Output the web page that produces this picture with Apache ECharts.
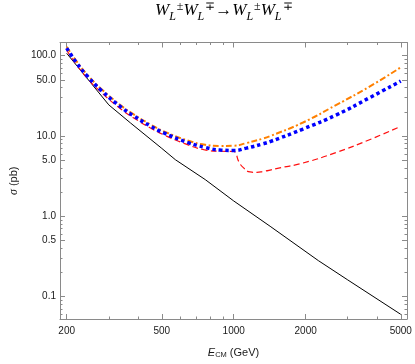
<!DOCTYPE html>
<html><head><meta charset="utf-8">
<script src="https://cdn.jsdelivr.net/npm/echarts@6/dist/echarts.min.js"></script>
<style>html,body{margin:0;padding:0;background:#fff}#c{width:415px;height:364px}</style>
</head><body><div id="c"></div>
<script>
// ---- data (E_CM in GeV, sigma in pb) ----
const blackE = [200, 300, 370, 500, 570, 760, 1000, 1420, 2260, 3000, 5000];
const blackS = [107, 24.4, 14.5, 7.0, 5.06, 2.86, 1.55, 0.75, 0.28, 0.161, 0.06];

const blueE = [200, 220, 245, 280, 340, 380, 450, 510, 640, 760, 880, 1000, 1130, 1330, 1420, 1950, 2690, 3700, 5000];
const blueS = [124, 81.5, 54.7, 36.6, 22.5, 17.9, 13.2, 10.9, 8.32, 7.19, 6.68, 6.6, 7.05, 8.0, 8.5, 12.2, 18.3, 29.9, 48.2];

const orangeE = [200, 220, 245, 280, 340, 380, 450, 510, 640, 760, 880, 1000, 1130, 1330, 1420, 1950, 2690, 3700, 5000];
const orangeS = [129, 85, 57, 38.2, 23.5, 18.7, 13.8, 11.4, 8.8, 7.75, 7.5, 7.55, 8.15, 9.3, 9.95, 14.7, 24.4, 41.2, 71.5];

const redE = [200, 220, 245, 280, 340, 380, 450, 510, 640, 750, 880, 1000, 1020, 1050, 1100, 1170, 1250, 1330, 1420, 1560, 1950, 2690, 3700, 5000];
const redS = [117, 77, 51.5, 34.5, 21.2, 16.9, 12.5, 10.3, 7.8, 6.75, 6.45, 6.4, 6.1, 4.8, 4.0, 3.56, 3.52, 3.62, 3.76, 4.0, 4.6, 6.24, 8.97, 13.2];

// ---- ticks ----
const xMajor = [200, 500, 1000, 2000, 5000];
const xMajorLabels = ['200', '500', '1000', '2000', '5000'];
const xMinor = [300, 400, 600, 700, 800, 900, 3000, 4000];
const yMajor = [0.1, 0.5, 1, 5, 10, 50, 100];
const yMajorLabels = ['0.1', '0.5', '1.0', '5.0', '10.0', '50.0', '100.0'];
const yMinor = [0.06, 0.07, 0.08, 0.09, 0.2, 0.3, 0.4, 0.6, 0.7, 0.8, 0.9, 2, 3, 4, 6, 7, 8, 9, 20, 30, 40, 60, 70, 80, 90];

const L = Math.log10;
const XMIN = L(187.5), XMAX = L(5310);
const YMIN = -1.28, YMAX = 2.164;
const AX = '#8a8a8a';

function pairs(E, S) { return E.map((e, i) => [L(e), L(S[i])]); }
function labelFor(vals, labels) {
  return function (v) {
    let best = 0, bd = 1e9;
    vals.forEach((t, i) => { const d = Math.abs(L(t) - v); if (d < bd) { bd = d; best = i; } });
    return labels[best];
  };
}
function axis(kind, pos, vals, len, labels, showLine, extra) {
  const o = {
    type: 'value', position: pos, offset: 0,
    min: kind === 'x' ? XMIN : YMIN, max: kind === 'x' ? XMAX : YMAX,
    splitLine: { show: false },
    axisLine: { show: showLine, onZero: false, lineStyle: { color: AX, width: 1 } },
    axisTick: { show: true, inside: true, length: len, customValues: vals.map(L), lineStyle: { color: AX, width: 1 } },
    axisLabel: { show: !!labels, customValues: vals.map(L), color: '#1a1a1a', fontSize: 10, fontFamily: 'Liberation Sans',
      margin: kind === 'x' ? 7 : 4, formatter: labels ? labelFor(vals, labels) : '' }
  };
  return Object.assign(o, extra || {});
}

const chart = echarts.init(document.getElementById('c'), null, { renderer: 'canvas' });
chart.setOption({
  animation: false,
  backgroundColor: '#fff',
  title: {
    text: '{w|W}{s|L}{p|±}{w|W}{s|L}{p|∓}{a|→}{w|W}{s|L}{p|±}{w|W}{s|L}{p|∓}',
    left: 155, top: 1, padding: 0,
    textStyle: {
      fontWeight: 'normal',
      rich: {
        w: { fontFamily: 'Liberation Serif', fontStyle: 'italic', fontWeight: 'normal', fontSize: 17, lineHeight: 20, color: '#000' },
        s: { fontFamily: 'Liberation Serif', fontStyle: 'italic', fontWeight: 'normal', fontSize: 12, lineHeight: 20, color: '#000', padding: [11, 1, 0, 0] },
        p: { fontFamily: 'Liberation Serif', fontWeight: 'normal', fontSize: 12, lineHeight: 20, color: '#000', padding: [0, 0, 9, 0] },
        a: { fontFamily: 'Liberation Serif', fontWeight: 'normal', fontSize: 17, lineHeight: 20, color: '#000' }
      }
    }
  },
  grid: { left: 59, right: 8, top: 42.5, bottom: 44, containLabel: false },
  xAxis: [
    axis('x', 'bottom', xMajor, 5, xMajorLabels, true, {
      name: '{e|E}{s|CM}{n| (GeV)}', nameLocation: 'middle', nameGap: 27,
      nameTextStyle: { rich: {
        e: { fontFamily: 'Liberation Sans', fontStyle: 'italic', fontSize: 11, color: '#1a1a1a' },
        s: { fontFamily: 'Liberation Sans', fontSize: 7.5, color: '#1a1a1a', padding: [5, 0, 0, 0] },
        n: { fontFamily: 'Liberation Sans', fontSize: 11, color: '#1a1a1a' }
      } }
    }),
    axis('x', 'top', xMajor, 5, null, true),
    axis('x', 'bottom', xMinor, 2.5, null, false),
    axis('x', 'top', xMinor, 2.5, null, false)
  ],
  yAxis: [
    axis('y', 'left', yMajor, 5, yMajorLabels, true, {
      name: '{s|σ}{n| (pb)}', nameLocation: 'middle', nameGap: 40, nameRotate: 90,
      nameTextStyle: { rich: {
        s: { fontFamily: 'Liberation Serif', fontStyle: 'italic', fontSize: 12, color: '#1a1a1a' },
        n: { fontFamily: 'Liberation Sans', fontSize: 11, color: '#1a1a1a' }
      } }
    }),
    axis('y', 'right', yMajor, 5, null, true),
    axis('y', 'left', yMinor, 2.5, null, false),
    axis('y', 'right', yMinor, 2.5, null, false)
  ],
  series: [
    { type: 'line', name: 'black', data: pairs(blackE, blackS), showSymbol: false, symbol: 'none', smooth: false,
      lineStyle: { color: '#000', width: 1 }, z: 2 },
    { type: 'line', name: 'red', data: pairs(redE, redS), showSymbol: false, symbol: 'none', smooth: 0.5,
      lineStyle: { color: '#ff1010', width: 1.2, type: [6, 3.5] }, z: 3 },
    { type: 'line', name: 'orange', data: pairs(orangeE, orangeS), showSymbol: false, symbol: 'none', smooth: 0.5,
      lineStyle: { color: '#ff8000', width: 2, type: [6, 2.5, 2, 2.5] }, z: 4 },
    { type: 'line', name: 'blue', data: pairs(blueE, blueS), showSymbol: false, symbol: 'none', smooth: 0.5,
      lineStyle: { color: '#0000ff', width: 3.5, type: [3.5, 3], cap: 'butt' }, z: 5 }
  ]
});
</script>
</body></html>
